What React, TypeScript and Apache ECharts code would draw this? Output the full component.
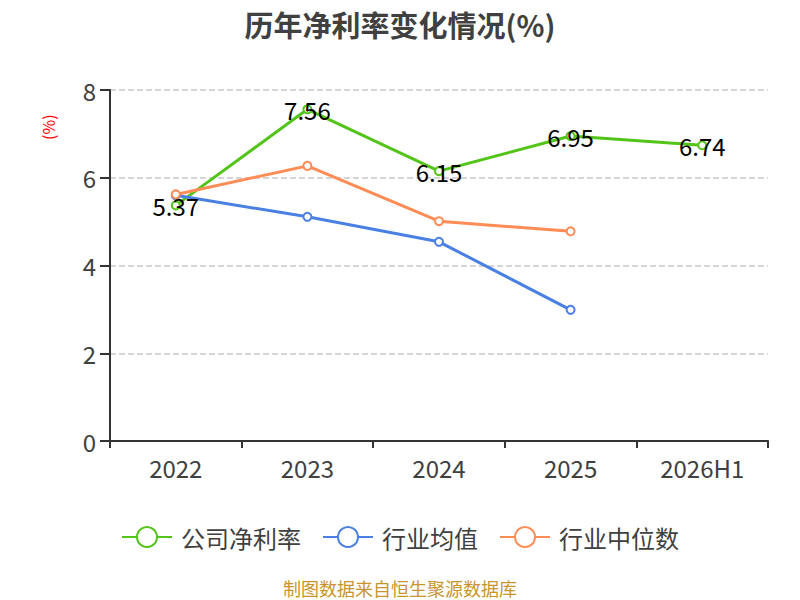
import React, { useEffect, useRef } from "react";
import * as echarts from "echarts";

const categories = ["2022", "2023", "2024", "2025", "2026H1"];
const companyNetMargin = [5.37, 7.56, 6.15, 6.95, 6.74];
const industryAverage = [5.6, 5.11, 4.54, 2.99, null];
const industryMedian = [5.62, 6.27, 5.01, 4.78, null];
const yTicks = { min: 0, max: 8, interval: 2 };

const FONT = "'Noto Sans CJK SC', 'Noto Sans', sans-serif";

export default function App() {
  const ref = useRef<HTMLDivElement>(null);
  useEffect(() => {
    document.body.style.margin = "0";
    if (!ref.current) return;
    const chart = echarts.init(ref.current, null, { renderer: "svg" });
    const mkSeries = (name: string, data: (number | null)[], color: string, label: boolean) => ({
      name,
      type: "line",
      data,
      symbol: "emptyCircle",
      symbolSize: 8,
      lineStyle: { width: 3, color },
      itemStyle: { color, borderWidth: 2 },
      label: label
        ? { show: true, position: "inside", fontSize: 24, color: "#000", fontFamily: FONT }
        : { show: false },
    });
    chart.setOption({
      animation: false,
      textStyle: { fontFamily: FONT },
      title: {
        text: "历年净利率变化情况(%)",
        left: "center",
        top: 4,
        textStyle: { fontSize: 29, fontWeight: "bold", color: "#404040", fontFamily: FONT },
      },
      grid: { left: 110, right: 32, top: 90, bottom: 159 },
      legend: {
        top: 520,
        left: "center",
        itemWidth: 50,
        itemHeight: 25,
        itemGap: 21,
        lineStyle: { width: 2 },
        itemStyle: { borderWidth: 2 },
        textStyle: { fontSize: 24, color: "#404040", fontFamily: FONT, padding: [0, 0, 0, 4] },
        data: ["公司净利率", "行业均值", "行业中位数"],
      },
      xAxis: {
        type: "category",
        data: categories,
        axisLine: { lineStyle: { color: "#333", width: 2 } },
        axisTick: { show: true, length: 7, lineStyle: { color: "#333", width: 2 } },
        axisLabel: { fontSize: 24, color: "#404040", margin: 14, fontFamily: FONT },
      },
      yAxis: {
        type: "value",
        min: yTicks.min,
        max: yTicks.max,
        interval: yTicks.interval,
        axisLine: { show: true, lineStyle: { color: "#333", width: 2 } },
        axisTick: { show: true, length: 10, lineStyle: { color: "#333", width: 2 } },
        axisLabel: { fontSize: 24, color: "#404040", margin: 14, fontFamily: FONT },
        splitLine: { lineStyle: { type: "dashed", color: "#c8c8c8", width: 1.5 } },
      },
      graphic: [
        {
          type: "text",
          x: 40,
          y: 140,
          rotation: Math.PI / 2,
          style: { text: "(%)", fill: "#ff0000", fontSize: 16, fontFamily: FONT },
        },
        {
          type: "text",
          left: "center",
          top: 579,
          style: { text: "制图数据来自恒生聚源数据库", fill: "#c8952c", fontSize: 18, fontFamily: FONT },
        },
      ],
      series: [
        mkSeries("公司净利率", companyNetMargin, "#52c41a", true),
        mkSeries("行业均值", industryAverage, "#4a80e3", false),
        mkSeries("行业中位数", industryMedian, "#ff8c55", false),
      ],
    });
    return () => chart.dispose();
  }, []);
  return <div ref={ref} style={{ width: 800, height: 600 }} />;
}
